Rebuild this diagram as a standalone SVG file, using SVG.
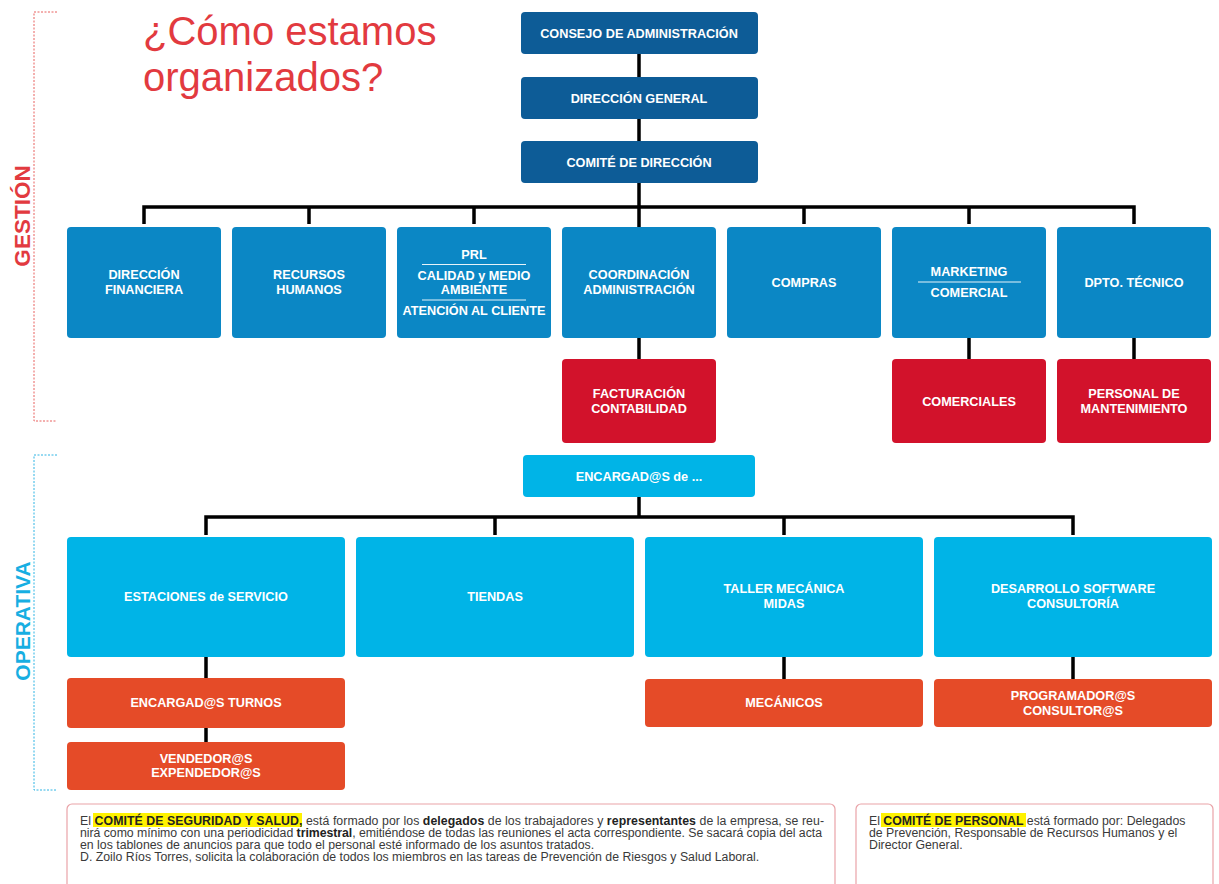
<svg xmlns="http://www.w3.org/2000/svg" width="1219" height="884" viewBox="0 0 1219 884">
<style>
.t{font-family:"Liberation Sans",Arial,sans-serif;font-weight:bold;font-size:12.7px;fill:#fff;text-anchor:middle}
.dk{fill:#0d5c97}
.gb{fill:#0b87c5}
.rd{fill:#d2122b}
.lb{fill:#00b4e7}
.or{fill:#e54b28}
.conn{stroke:#000;stroke-width:3.5;fill:none}
.sep{stroke:#fff;stroke-width:1;opacity:0.9}
.body{font-family:"Liberation Sans",Arial,sans-serif;font-size:12.3px;fill:#3a3a3a}
.bold{font-weight:bold;fill:#222}
.hl{fill:#fff200}
.note{fill:#fff;stroke:#e9a3a8;stroke-width:1.2}
</style>
<rect width="1219" height="884" fill="#fff"/>

<g id="brackets">
<path d="M57 12 H34 V421 H57" fill="none" stroke="#e8615f" stroke-width="1" stroke-dasharray="2 1.5"/>
<path d="M57 455 H34 V790 H57" fill="none" stroke="#2fb4e4" stroke-width="1" stroke-dasharray="2 1.5"/>
<text transform="translate(30,216) rotate(-90)" text-anchor="middle" font-family="Liberation Sans,Arial,sans-serif" font-weight="bold" font-size="22.5" fill="#e23a3f">GESTIÓN</text>
<text transform="translate(30,621) rotate(-90)" text-anchor="middle" font-family="Liberation Sans,Arial,sans-serif" font-weight="bold" font-size="21" fill="#17aee2">OPERATIVA</text>
</g>

<g id="title">
<text x="143" y="45" font-family="Liberation Sans,Arial,sans-serif" font-size="40" fill="#e23a3f">¿Cómo estamos</text>
<text x="143" y="91" font-family="Liberation Sans,Arial,sans-serif" font-size="40" fill="#e23a3f">organizados?</text>
</g>

<g id="connectors">
<path class="conn" d="M639 54 V77 M639 119 V141 M639 183 V227"/>
<path class="conn" d="M144 224 V207 H1134 V224 M309 207 V224 M474 207 V224 M804 207 V224 M969 207 V224"/>
<path class="conn" d="M639 338 V359 M969 338 V359 M1134 338 V359"/>
<path class="conn" d="M639 497 V517 M206 535 V517 H1073 V535 M495 517 V535 M784 517 V535"/>
<path class="conn" d="M206 657 V678 M206 728 V742 M784 657 V679 M1073 657 V679"/>
</g>

<g id="consejo"><rect class="dk" x="521" y="12" width="237" height="42" rx="4"/><text class="t" x="639" y="38">CONSEJO DE ADMINISTRACIÓN</text></g>
<g id="direccion-general"><rect class="dk" x="521" y="77" width="237" height="42" rx="4"/><text class="t" x="639" y="103">DIRECCIÓN GENERAL</text></g>
<g id="comite-direccion"><rect class="dk" x="521" y="141" width="237" height="42" rx="4"/><text class="t" x="639" y="167">COMITÉ DE DIRECCIÓN</text></g>

<g id="direccion-financiera"><rect class="gb" x="67" y="227" width="154" height="111" rx="4"/><text class="t" x="144" y="279">DIRECCIÓN</text><text class="t" x="144" y="294">FINANCIERA</text></g>
<g id="recursos-humanos"><rect class="gb" x="232" y="227" width="154" height="111" rx="4"/><text class="t" x="309" y="279">RECURSOS</text><text class="t" x="309" y="294">HUMANOS</text></g>
<g id="prl"><rect class="gb" x="397" y="227" width="154" height="111" rx="4"/><text class="t" x="474" y="259">PRL</text><line class="sep" x1="422" y1="264.5" x2="526" y2="264.5"/><text class="t" x="474" y="280">CALIDAD y MEDIO</text><text class="t" x="474" y="294">AMBIENTE</text><line class="sep" x1="422" y1="300" x2="526" y2="300"/><text class="t" x="474" y="315">ATENCIÓN AL CLIENTE</text></g>
<g id="coordinacion"><rect class="gb" x="562" y="227" width="154" height="111" rx="4"/><text class="t" x="639" y="279">COORDINACIÓN</text><text class="t" x="639" y="294">ADMINISTRACIÓN</text></g>
<g id="compras"><rect class="gb" x="727" y="227" width="154" height="111" rx="4"/><text class="t" x="804" y="287">COMPRAS</text></g>
<g id="marketing"><rect class="gb" x="892" y="227" width="154" height="111" rx="4"/><text class="t" x="969" y="276">MARKETING</text><line class="sep" x1="918" y1="282" x2="1021" y2="282"/><text class="t" x="969" y="297">COMERCIAL</text></g>
<g id="dpto-tecnico"><rect class="gb" x="1057" y="227" width="154" height="111" rx="4"/><text class="t" x="1134" y="287">DPTO. TÉCNICO</text></g>

<g id="facturacion"><rect class="rd" x="562" y="359" width="154" height="84" rx="4"/><text class="t" x="639" y="398">FACTURACIÓN</text><text class="t" x="639" y="413">CONTABILIDAD</text></g>
<g id="comerciales"><rect class="rd" x="892" y="359" width="154" height="84" rx="4"/><text class="t" x="969" y="406">COMERCIALES</text></g>
<g id="personal-mantenimiento"><rect class="rd" x="1057" y="359" width="154" height="84" rx="4"/><text class="t" x="1134" y="398">PERSONAL DE</text><text class="t" x="1134" y="413">MANTENIMIENTO</text></g>

<g id="encargados"><rect class="lb" x="523" y="455" width="232" height="42" rx="4"/><text class="t" x="639" y="481">ENCARGAD@S de ...</text></g>

<g id="estaciones"><rect class="lb" x="67" y="537" width="278" height="120" rx="4"/><text class="t" x="206" y="601">ESTACIONES de SERVICIO</text></g>
<g id="tiendas"><rect class="lb" x="356" y="537" width="278" height="120" rx="4"/><text class="t" x="495" y="601">TIENDAS</text></g>
<g id="taller"><rect class="lb" x="645" y="537" width="278" height="120" rx="4"/><text class="t" x="784" y="593">TALLER MECÁNICA</text><text class="t" x="784" y="608">MIDAS</text></g>
<g id="desarrollo"><rect class="lb" x="934" y="537" width="278" height="120" rx="4"/><text class="t" x="1073" y="593">DESARROLLO SOFTWARE</text><text class="t" x="1073" y="608">CONSULTORÍA</text></g>

<g id="encargados-turnos"><rect class="or" x="67" y="678" width="278" height="50" rx="4"/><text class="t" x="206" y="707">ENCARGAD@S TURNOS</text></g>
<g id="vendedores"><rect class="or" x="67" y="742" width="278" height="48" rx="4"/><text class="t" x="206" y="763">VENDEDOR@S</text><text class="t" x="206" y="777">EXPENDEDOR@S</text></g>
<g id="mecanicos"><rect class="or" x="645" y="679" width="278" height="48" rx="4"/><text class="t" x="784" y="707">MECÁNICOS</text></g>
<g id="programadores"><rect class="or" x="934" y="679" width="278" height="48" rx="4"/><text class="t" x="1073" y="700">PROGRAMADOR@S</text><text class="t" x="1073" y="715">CONSULTOR@S</text></g>

<g id="comite-seguridad">
<rect class="note" x="67" y="804" width="768" height="100" rx="5"/>
<rect class="hl" x="93" y="813" width="209" height="14"/>
<text class="body" x="80" y="825" textLength="744" lengthAdjust="spacing">El <tspan class="bold">COMITÉ DE SEGURIDAD Y SALUD,</tspan> está formado por los <tspan class="bold">delegados</tspan> de los trabajadores y <tspan class="bold">representantes</tspan> de la empresa, se reu-</text>
<text class="body" x="80" y="837" textLength="742" lengthAdjust="spacing">nirá como mínimo con una periodicidad <tspan class="bold">trimestral</tspan>, emitiéndose de todas las reuniones el acta correspondiente. Se sacará copia del acta</text>
<text class="body" x="80" y="849">en los tablones de anuncios para que todo el personal esté informado de los asuntos tratados.</text>
<text class="body" x="80" y="861">D. Zoilo Ríos Torres, solicita la colaboración de todos los miembros en las tareas de Prevención de Riesgos y Salud Laboral.</text>
</g>

<g id="comite-personal">
<rect class="note" x="856" y="804" width="357" height="100" rx="5"/>
<rect class="hl" x="881" y="813" width="145" height="14"/>
<text class="body" x="869" y="825">El <tspan class="bold">COMITÉ DE PERSONAL</tspan> está formado por: Delegados</text>
<text class="body" x="869" y="837">de Prevención, Responsable de Recursos Humanos y el</text>
<text class="body" x="869" y="849">Director General.</text>
</g>
</svg>
